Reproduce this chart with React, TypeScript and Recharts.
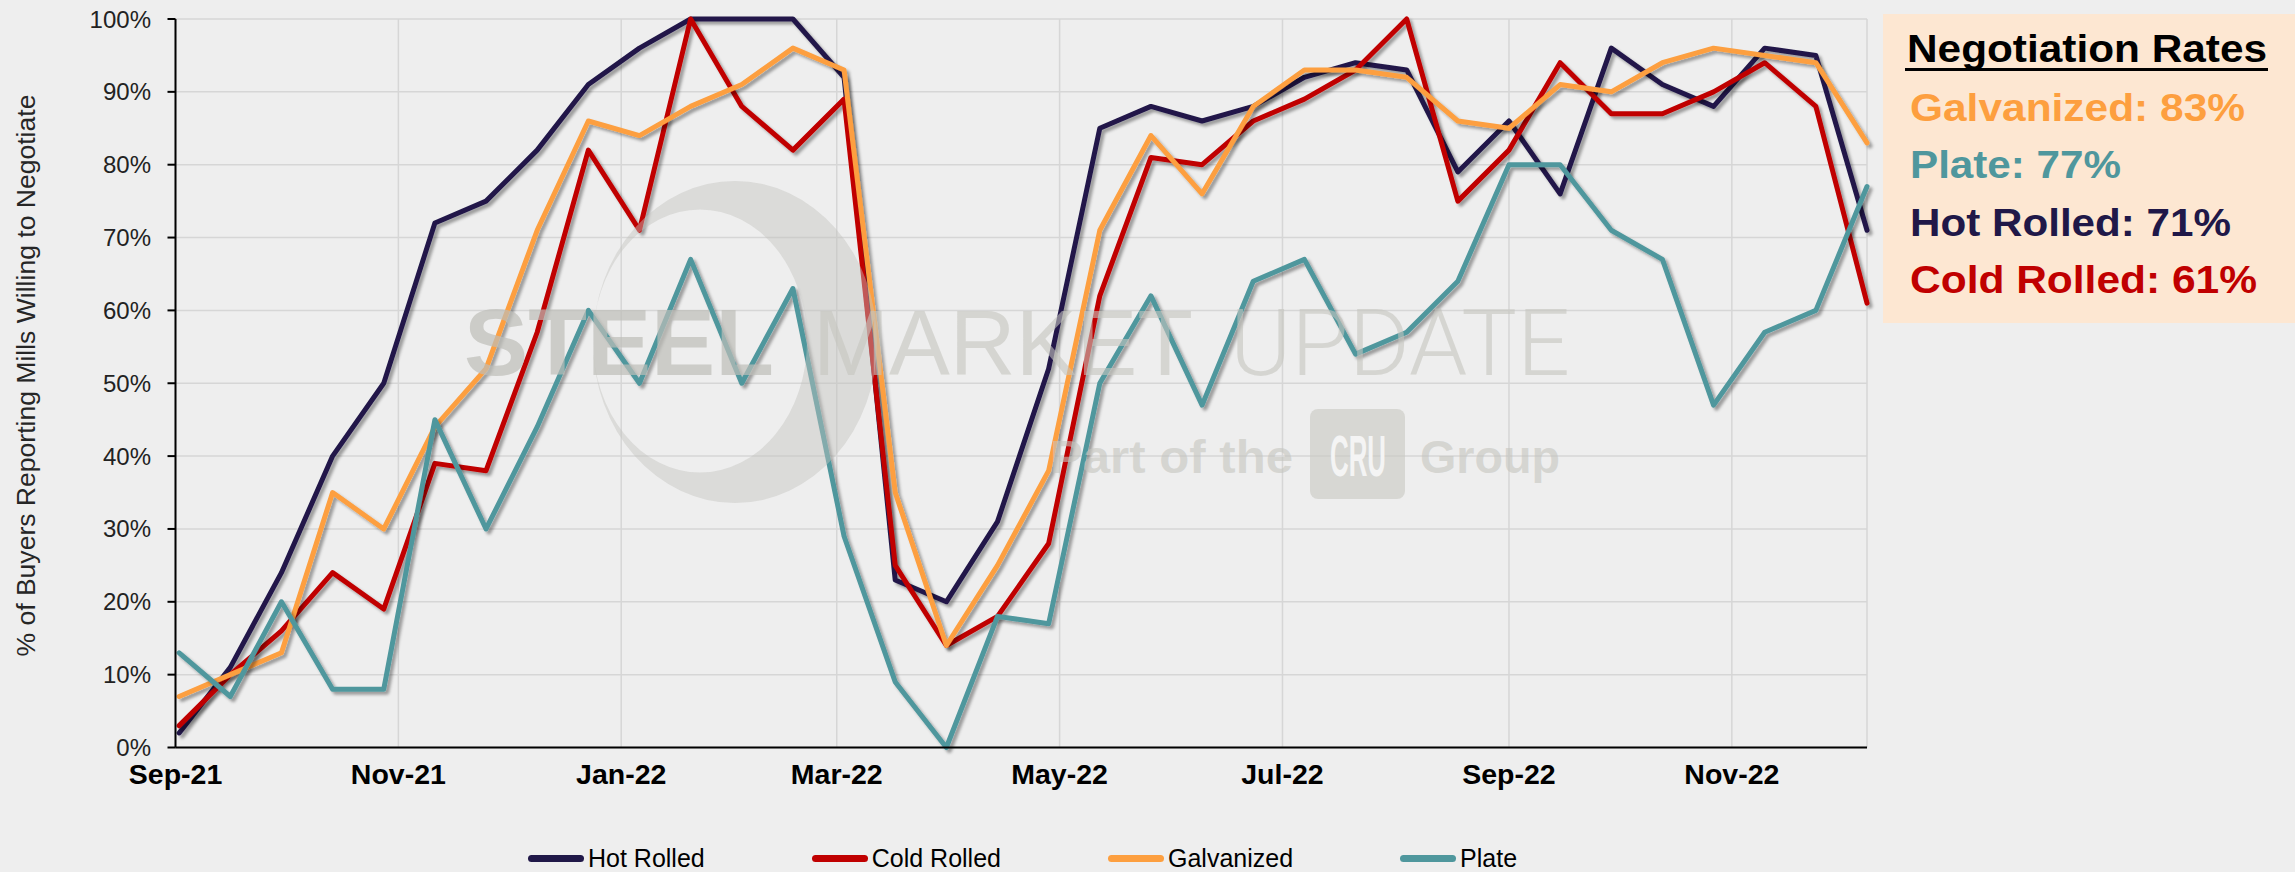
import React from 'react';
import { LineChart, Line, XAxis, YAxis, CartesianGrid, Legend } from 'recharts';

// Survey dates (biweekly)
const DATES = [
  '2021-09-02', '2021-09-16', '2021-09-30', '2021-10-14', '2021-10-28', '2021-11-11',
  '2021-11-25', '2021-12-09', '2021-12-23', '2022-01-06', '2022-01-20', '2022-02-03',
  '2022-02-17', '2022-03-03', '2022-03-17', '2022-03-31', '2022-04-14', '2022-04-28',
  '2022-05-12', '2022-05-26', '2022-06-09', '2022-06-23', '2022-07-07', '2022-07-21',
  '2022-08-04', '2022-08-18', '2022-09-01', '2022-09-15', '2022-09-29', '2022-10-13',
  '2022-10-27', '2022-11-10', '2022-11-24', '2022-12-08',
];

const HOT_ROLLED = [2, 11, 24, 40, 50, 72, 75, 82, 91, 96, 100, 100, 100, 92, 23, 20, 31, 52, 85, 88, 86, 88, 92, 94, 93, 79, 86, 76, 96, 91, 88, 96, 95, 71];
const COLD_ROLLED = [3, 10, 16, 24, 19, 39, 38, 57, 82, 71, 100, 88, 82, 89, 25, 14, 18, 28, 62, 81, 80, 86, 89, 93, 100, 75, 82, 94, 87, 87, 90, 94, 88, 61];
const GALVANIZED = [7, 10, 13, 35, 30, 44, 52, 71, 86, 84, 88, 91, 96, 93, 35, 14, 25, 38, 71, 84, 76, 88, 93, 93, 92, 86, 85, 91, 90, 94, 96, 95, 94, 83];
const PLATE = [13, 7, 20, 8, 8, 45, 30, 44, 60, 50, 67, 50, 63, 29, 9, 0, 18, 17, 50, 62, 47, 64, 67, 54, 57, 64, 80, 80, 71, 67, 47, 57, 60, 77];

const X_TICK_DATES = ['2021-09-01', '2021-11-01', '2022-01-01', '2022-03-01', '2022-05-01', '2022-07-01', '2022-09-01', '2022-11-01'];
const X_TICK_LABELS = ['Sep-21', 'Nov-21', 'Jan-22', 'Mar-22', 'May-22', 'Jul-22', 'Sep-22', 'Nov-22'];
const Y_TICKS = [0, 10, 20, 30, 40, 50, 60, 70, 80, 90, 100];

const SERIES = [
  { key: 'hot', name: 'Hot Rolled', color: '#201848', values: HOT_ROLLED },
  { key: 'cold', name: 'Cold Rolled', color: '#c00000', values: COLD_ROLLED },
  { key: 'galv', name: 'Galvanized', color: '#fd9f3f', values: GALVANIZED },
  { key: 'plate', name: 'Plate', color: '#4f979d', values: PLATE },
];

const RATES = [
  { label: 'Galvanized: 83%', color: '#fd9f3f', len: 335 },
  { label: 'Plate: 77%', color: '#4f979d', len: 211 },
  { label: 'Hot Rolled: 71%', color: '#201848', len: 321 },
  { label: 'Cold Rolled: 61%', color: '#c00000', len: 347 },
];

const X_MIN = Date.parse('2021-09-01');
const X_MAX = Date.parse(DATES[DATES.length - 1]);
const X_TICKS = X_TICK_DATES.map((d) => Date.parse(d));

const data = DATES.map((d, i) => {
  const row: Record<string, number> = { t: Date.parse(d) };
  SERIES.forEach((s) => {
    row[s.key] = s.values[i];
  });
  return row;
});

const FONT = 'Arial, "Liberation Sans", sans-serif';

const formatX = (v: number) => {
  const i = X_TICKS.indexOf(v);
  return i >= 0 ? X_TICK_LABELS[i] : '';
};

const renderLegend = (props: any) => {
  const payload = props.payload || [];
  const ordered = SERIES.map((s) => payload.find((p: any) => p.value === s.name) || { value: s.name, color: s.color });
  return (
    <div style={{ display: 'flex', alignItems: 'center', height: 28, gap: 107, fontFamily: FONT }}>
      {ordered.map((e: any) => (
        <div key={e.value} style={{ display: 'flex', alignItems: 'center' }}>
          <span style={{ display: 'inline-block', width: 56, height: 7, borderRadius: 4, background: e.color, marginRight: 4 }} />
          <span style={{ fontSize: 25, color: '#000', lineHeight: '28px', whiteSpace: 'nowrap' }}>{e.value}</span>
        </div>
      ))}
    </div>
  );
};

export default function App() {
  return (
    <div style={{ position: 'absolute', left: 0, top: 0, width: 2295, height: 872, background: '#eeeeee', overflow: 'hidden', fontFamily: FONT }}>
      <style>{`.recharts-line-curve { filter: url(#lineShadow); }`}</style>
      <svg width={0} height={0} style={{ position: 'absolute' }}>
        <defs>
          <filter id="lineShadow" filterUnits="userSpaceOnUse" x="0" y="0" width="2295" height="872">
            <feDropShadow dx="3" dy="3" stdDeviation="1.8" floodColor="#000" floodOpacity="0.35" />
          </filter>
        </defs>
      </svg>

      <div style={{ position: 'absolute', left: 0, top: 0 }}>
        <LineChart width={2295} height={872} data={data} margin={{ top: 19, right: 428, bottom: 36.5, left: 0 }}>
          <CartesianGrid stroke="#d6d6d6" strokeWidth={1.5} />
          <XAxis
            dataKey="t"
            type="number"
            domain={[X_MIN, X_MAX]}
            ticks={X_TICKS}
            tickFormatter={formatX}
            interval={0}
            height={60}
            tickLine={false}
            tickSize={0}
            tickMargin={16}
            axisLine={{ stroke: '#000', strokeWidth: 2 }}
            tick={{ fontSize: 28.5, fontWeight: 'bold', fill: '#000', fontFamily: FONT }}
          />
          <YAxis
            type="number"
            domain={[0, 100]}
            ticks={Y_TICKS}
            interval={0}
            tickFormatter={(v: number) => `${v}%`}
            width={175.5}
            tickSize={8}
            tickMargin={16.5}
            tickLine={{ stroke: '#000', strokeWidth: 2 }}
            axisLine={{ stroke: '#000', strokeWidth: 2 }}
            tick={{ fontSize: 24, fill: '#222', fontFamily: FONT }}
          />
          <Legend
            verticalAlign="bottom"
            content={renderLegend}
            wrapperStyle={{ left: 528, bottom: 0, width: 1200, height: 28 }}
          />
          {SERIES.map((s) => (
            <Line
              key={s.key}
              type="linear"
              dataKey={s.key}
              name={s.name}
              stroke={s.color}
              strokeWidth={5}
              strokeLinejoin="round"
              strokeLinecap="round"
              dot={false}
              activeDot={false}
              isAnimationActive={false}
            />
          ))}
        </LineChart>
      </div>

      {/* watermark + y-axis title overlay */}
      <svg width={2295} height={872} style={{ position: 'absolute', left: 0, top: 0, pointerEvents: 'none' }}>
        <path
          fillRule="evenodd"
          fill="#c4c4be"
          opacity={0.45}
          d="M 593 342 A 142 161 0 1 0 877 342 A 142 161 0 1 0 593 342 Z M 593 341 A 107 131.5 0 1 0 807 341 A 107 131.5 0 1 0 593 341 Z"
        />
        <text y={375} fontFamily={FONT}>
          <tspan x={464} fontSize={95} fontWeight="bold" fill="#bdbdb8" fillOpacity={0.7} textLength={310} lengthAdjust="spacingAndGlyphs">STEEL</tspan>
          <tspan x={813} fontSize={93} fill="#c4c4be" fillOpacity={0.6} textLength={380} lengthAdjust="spacingAndGlyphs">MARKET</tspan>
          <tspan x={1230} fontSize={93} fontWeight={300} fill="#c4c4be" fillOpacity={0.6} textLength={340} lengthAdjust="spacingAndGlyphs" fontFamily="Roboto, Arial, sans-serif">UPDATE</tspan>
        </text>
        <rect x={1310} y={409} width={95} height={90} rx={8} fill="#c8c8c2" opacity={0.6} />
        <text x={1050} y={473} fontFamily={FONT} fontWeight="bold" fontSize={46} fill="#c4c4be" fillOpacity={0.6} textLength={243} lengthAdjust="spacingAndGlyphs">Part of the</text>
        <text
          x={1330}
          y={476}
          transform="matrix(1 0 0 1.45 0 -214.2)"
          fontFamily={FONT}
          fontWeight="bold"
          fontSize={40}
          fill="#f4f4f4"
          textLength={56}
          lengthAdjust="spacingAndGlyphs"
        >
          CRU
        </text>
        <text x={1420} y={473} fontFamily={FONT} fontWeight="bold" fontSize={46} fill="#c4c4be" fillOpacity={0.6} textLength={140} lengthAdjust="spacingAndGlyphs">Group</text>

        <text
          x={34.8}
          y={375.6}
          transform="rotate(-90 34.8 375.6)"
          textAnchor="middle"
          fontSize={26}
          fill="#262626"
          textLength={562}
          lengthAdjust="spacingAndGlyphs"
          fontFamily={FONT}
        >
          % of Buyers Reporting Mills Willing to Negotiate
        </text>
      </svg>

      {/* Negotiation Rates box */}
      <svg width={412} height={310} style={{ position: 'absolute', left: 1883, top: 14 }}>
        <rect x={0} y={0} width={412} height={309} fill="#fde7d2" />
        <text x={24} y={48} fontSize={39} fontWeight="bold" fill="#000" textLength={360} lengthAdjust="spacingAndGlyphs" fontFamily={FONT}>Negotiation Rates</text>
        <line x1={22} x2={385} y1={55.5} y2={55.5} stroke="#000" strokeWidth={3} />
        {RATES.map((r, i) => (
          <text key={r.label} x={27} y={107 + i * 57.3} fontSize={38} fontWeight="bold" fill={r.color} textLength={r.len} lengthAdjust="spacingAndGlyphs" fontFamily={FONT}>
            {r.label}
          </text>
        ))}
      </svg>
    </div>
  );
}
